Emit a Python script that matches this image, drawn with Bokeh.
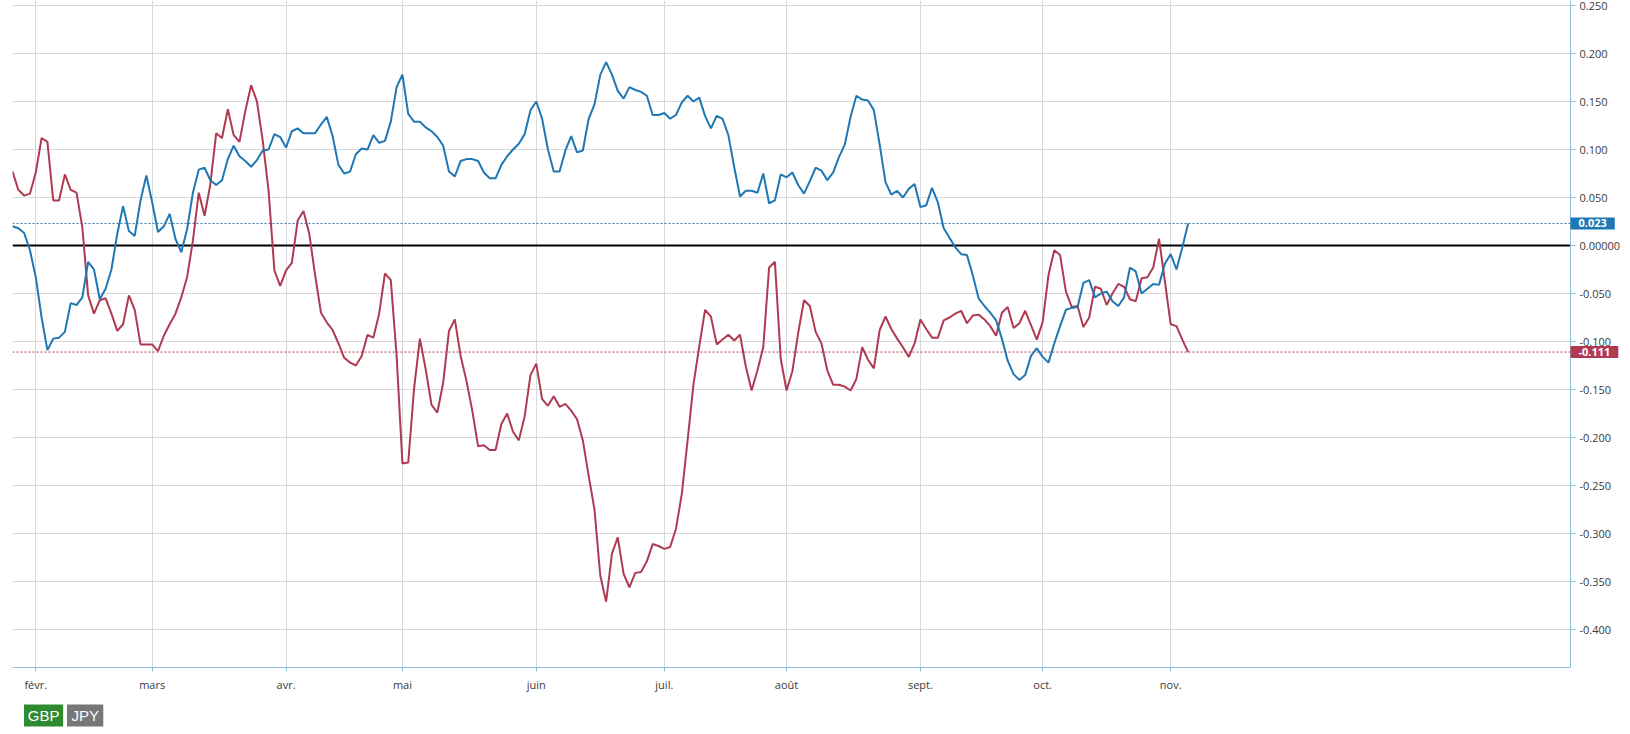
from bokeh.plotting import figure
from bokeh.layouts import column
from bokeh.models import Range1d, FixedTicker, NumeralTickFormatter, Span, Label
from bokeh.core.properties import value
from bokeh.embed import file_html
from bokeh.resources import INLINE

# ---- data (one value per trading day, Jan 26 -> Nov 6) ----
blue_series = [
    0.020, 0.018, 0.013, -0.005, -0.033, -0.075, -0.109, -0.097, -0.096, -0.090,
    -0.060, -0.062, -0.054, -0.017, -0.025, -0.056, -0.045, -0.025, 0.012, 0.041,
    0.015, 0.010, 0.047, 0.073, 0.045, 0.014, 0.020, 0.033, 0.007, -0.007,
    0.017, 0.055, 0.079, 0.081, 0.068, 0.063, 0.068, 0.090, 0.104, 0.093,
    0.088, 0.082, 0.089, 0.099, 0.100, 0.116, 0.113, 0.102, 0.119, 0.122,
    0.117, 0.117, 0.117, 0.126, 0.134, 0.114, 0.084, 0.075, 0.077, 0.095,
    0.101, 0.100, 0.115, 0.107, 0.109, 0.129, 0.165, 0.178, 0.137, 0.129,
    0.129, 0.123, 0.119, 0.113, 0.104, 0.077, 0.072, 0.088, 0.090, 0.090,
    0.088, 0.076, 0.070, 0.070, 0.084, 0.093, 0.100, 0.106, 0.116, 0.141,
    0.150, 0.132, 0.100, 0.077, 0.077, 0.099, 0.114, 0.097, 0.099, 0.132,
    0.147, 0.178, 0.191, 0.178, 0.161, 0.153, 0.165, 0.162, 0.160, 0.156,
    0.136, 0.136, 0.138, 0.132, 0.136, 0.149, 0.156, 0.150, 0.154, 0.135,
    0.122, 0.135, 0.132, 0.115, 0.082, 0.051, 0.057, 0.057, 0.055, 0.075,
    0.044, 0.047, 0.074, 0.071, 0.076, 0.063, 0.054, 0.067, 0.081, 0.078,
    0.068, 0.076, 0.092, 0.105, 0.134, 0.156, 0.152, 0.151, 0.141, 0.105,
    0.066, 0.053, 0.057, 0.050, 0.059, 0.064, 0.040, 0.042, 0.060, 0.045,
    0.018, 0.008, -0.002, -0.009, -0.010, -0.031, -0.055, -0.063, -0.070, -0.078,
    -0.097, -0.120, -0.134, -0.140, -0.135, -0.115, -0.107, -0.116, -0.122, -0.102,
    -0.084, -0.067, -0.065, -0.064, -0.039, -0.036, -0.054, -0.050, -0.048, -0.058,
    -0.063, -0.054, -0.023, -0.027, -0.050, -0.045, -0.040, -0.041, -0.019, -0.009,
    -0.025, -0.002, 0.023,
]

red_series = [
    0.077, 0.058, 0.052, 0.054, 0.076, 0.112, 0.108, 0.047, 0.047, 0.074,
    0.058, 0.055, 0.019, -0.052, -0.071, -0.057, -0.055, -0.071, -0.089, -0.082,
    -0.052, -0.067, -0.103, -0.103, -0.103, -0.110, -0.094, -0.082, -0.071, -0.054,
    -0.033, 0.005, 0.055, 0.031, 0.064, 0.117, 0.112, 0.142, 0.115, 0.108,
    0.140, 0.167, 0.150, 0.109, 0.057, -0.026, -0.042, -0.026, -0.018, 0.026,
    0.036, 0.012, -0.031, -0.070, -0.080, -0.088, -0.102, -0.117, -0.122, -0.125,
    -0.115, -0.093, -0.096, -0.071, -0.029, -0.036, -0.115, -0.227, -0.226, -0.149,
    -0.097, -0.129, -0.166, -0.174, -0.143, -0.089, -0.077, -0.115, -0.141, -0.172,
    -0.209, -0.208, -0.213, -0.213, -0.186, -0.175, -0.194, -0.203, -0.178, -0.135,
    -0.123, -0.160, -0.167, -0.157, -0.168, -0.165, -0.172, -0.181, -0.203, -0.240,
    -0.275, -0.344, -0.371, -0.321, -0.304, -0.342, -0.356, -0.341, -0.340, -0.329,
    -0.311, -0.313, -0.316, -0.314, -0.295, -0.259, -0.203, -0.145, -0.105, -0.067,
    -0.074, -0.103, -0.098, -0.093, -0.099, -0.093, -0.126, -0.151, -0.130, -0.106,
    -0.023, -0.017, -0.118, -0.151, -0.131, -0.091, -0.057, -0.063, -0.090, -0.102,
    -0.130, -0.145, -0.145, -0.147, -0.151, -0.139, -0.106, -0.119, -0.128, -0.088,
    -0.074, -0.087, -0.097, -0.106, -0.116, -0.102, -0.077, -0.087, -0.096, -0.096,
    -0.078, -0.075, -0.071, -0.068, -0.081, -0.073, -0.072, -0.077, -0.084, -0.094,
    -0.070, -0.064, -0.086, -0.081, -0.068, -0.083, -0.098, -0.080, -0.031, -0.005,
    -0.010, -0.048, -0.064, -0.063, -0.085, -0.075, -0.043, -0.045, -0.062, -0.050,
    -0.040, -0.043, -0.056, -0.058, -0.034, -0.033, -0.023, 0.007, -0.037, -0.082,
    -0.084, -0.098, -0.111,
]

month_tick_index = [4, 24, 47, 67, 90, 112, 133, 156, 177, 199]
month_labels = ["févr.", "mars", "avr.", "mai", "juin", "juil.", "août", "sept.", "oct.", "nov."]
y_ticks = [-0.4, -0.35, -0.3, -0.25, -0.2, -0.15, -0.1, -0.05, 0.0,
           0.05, 0.1, 0.15, 0.2, 0.25]
legend_names = ["GBP", "JPY"]
legend_colors = ["#2e8b30", "#777777"]

BLUE = "#1f77b4"
RED = "#b03a52"
AXIS = "#8cbfda"
GRID = "#d6dadd"
FONT = "Open Sans"
TOP = 50  # hidden strip above the frame that holds the value tags' panels

x_index = list(range(len(blue_series)))

p = figure(width=1630, height=TOP + 667 + 28, output_backend="svg", toolbar_location=None,
           x_range=Range1d(0, 267.7), y_range=Range1d(-0.43958, 0.25521),
           y_axis_location="right",
           min_border_left=12, min_border_right=60, min_border_top=TOP, min_border_bottom=28,
           margin=(-TOP, 0, 0, 0))
p.outline_line_color = None
p.background_fill_color = "white"
p.border_fill_color = "white"

# grids
p.xgrid.ticker = FixedTicker(ticks=month_tick_index)
p.ygrid.ticker = FixedTicker(ticks=y_ticks)
p.xgrid.grid_line_color = GRID
p.ygrid.grid_line_color = GRID

# x axis
p.xaxis.ticker = FixedTicker(ticks=month_tick_index)
p.xaxis.major_label_overrides = {t: l for t, l in zip(month_tick_index, month_labels)}
p.xaxis.axis_line_color = AXIS
p.xaxis.major_tick_line_color = AXIS
p.xaxis.major_tick_in = 0
p.xaxis.major_tick_out = 4
p.xaxis.minor_tick_line_color = None
p.xaxis.major_label_standoff = 5
p.xaxis.major_label_text_font = FONT
p.xaxis.major_label_text_font_size = "11px"
p.xaxis.major_label_text_color = "#3a3a3a"

# y axis (right)
p.yaxis.ticker = FixedTicker(ticks=y_ticks)
p.yaxis.formatter = NumeralTickFormatter(format="0.000")
p.yaxis.major_label_overrides = {0: "0.00000"}
p.yaxis.axis_line_color = AXIS
p.yaxis.major_tick_line_color = AXIS
p.yaxis.major_tick_in = 0
p.yaxis.major_tick_out = 5
p.yaxis.minor_tick_line_color = None
p.yaxis.major_label_standoff = 4
p.yaxis.major_label_text_font = FONT
p.yaxis.major_label_text_font_size = "11px"
p.yaxis.major_label_text_color = "#3a3a3a"

# reference lines
p.add_layout(Span(location=0, dimension="width", line_color="black", line_width=2, level="underlay"))
p.add_layout(Span(location=blue_series[-1], dimension="width", line_color=BLUE,
                  line_width=1, line_dash="2 2", level="underlay"))
p.add_layout(Span(location=red_series[-1], dimension="width", line_color=RED,
                  line_width=1, line_dash="2 2", level="underlay"))

# series
p.line(x_index, red_series, line_color=RED, line_width=2)
p.line(x_index, blue_series, line_color=BLUE, line_width=2)

# last-value tags on the right axis (placed in a side panel so they are not clipped)
for val, col in ((blue_series[-1], BLUE), (red_series[-1], RED)):
    p.add_layout(Label(x=267.7, y=val, x_units="data", y_units="data",
                       text=f"{val:.3f}", text_align="left", text_baseline="middle",
                       text_font=FONT, text_font_size="11px", text_font_style="bold",
                       text_color="white", background_fill_color=col,
                       padding=(8, 2)), "above")

# legend buttons (separate strip below the chart)
leg = figure(width=1630, height=36, output_backend="svg", toolbar_location=None,
             x_range=Range1d(0, 1630), y_range=Range1d(36, 0),
             min_border=0, x_axis_type=None, y_axis_type=None)
leg.outline_line_color = None
leg.xgrid.visible = False
leg.ygrid.visible = False
widths = [41, 38]
lefts = [12, 57]
leg.quad(left=lefts, right=[l + w for l, w in zip(lefts, widths)],
         top=[9] * 2, bottom=[31] * 2, fill_color=legend_colors, line_color=None)
leg.text(x=[l + w / 2 for l, w in zip(lefts, widths)], y=[20] * 2, text=legend_names,
         text_align="center", text_baseline="middle", text_color="white",
         text_font=value("Liberation Sans"), text_font_size="15px")

layout = column(p, leg, spacing=0)
open("out.html", "w").write(file_html(layout, INLINE))
